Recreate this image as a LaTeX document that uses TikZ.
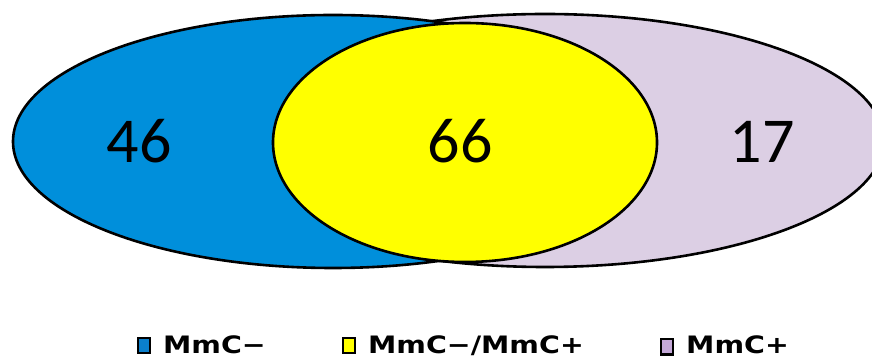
\documentclass[tikz,border=0pt]{standalone}
\usepackage{fontspec}
\newfontfamily\numfont{Carlito}
\newfontfamily\legfont{DejaVu Sans}

% set colours
\definecolor{setminus}{HTML}{008FDB}
\definecolor{setplus}{HTML}{DCCFE4}
\definecolor{setboth}{HTML}{FFFF00}
\definecolor{keyminus}{HTML}{0A7FCC}
\definecolor{keyplus}{HTML}{C4A8D8}

\tikzset{
  venn/.style={draw=black, line width=2.6pt},
  count/.style={font=\numfont\fontsize{64}{64}\selectfont, inner sep=0pt, anchor=base},
  keybox/.style={draw=black, line width=2.2pt},
  keytext/.style={font=\legfont\bfseries\fontsize{23.5}{24}\selectfont, inner sep=0pt, anchor=base west},
}

\begin{document}
\begin{tikzpicture}[x=1pt,y=1pt]
\useasboundingbox (0,0) rectangle (872,358);

% the three regions, back to front
\begin{scope}
  \clip (0,0) rectangle (872,358);
  \draw[venn, fill=setplus]  (545,217.5) ellipse [x radius=339, y radius=126.5];
  \draw[venn, fill=setminus] (333,216.5) ellipse [x radius=320, y radius=126.5];
  \draw[venn, fill=setboth]  (465,215.5) ellipse [x radius=192, y radius=119.5];
\end{scope}

% counts
\node[count] (nminus) at (139,195) {46};
\node[count] (nboth)  at (460,195) {66};
\node[count] (nplus)  at (762,195) {17};

% legend
\draw[keybox, fill=keyminus] (138,5) rectangle (150,20);
\node[keytext] (kminus) at (163,4.5) {\scalebox{1.21}[1.02]{MmC−}};
\draw[keybox, fill=setboth] (343,5) rectangle (355,20);
\node[keytext] (kboth) at (368,4.5) {\scalebox{1.21}[1.02]{MmC−/MmC+}};
\draw[keybox, fill=keyplus] (661,3.5) rectangle (673,19);
\node[keytext] (kplus) at (686,4.5) {\scalebox{1.21}[1.02]{MmC+}};
\end{tikzpicture}
\end{document}
